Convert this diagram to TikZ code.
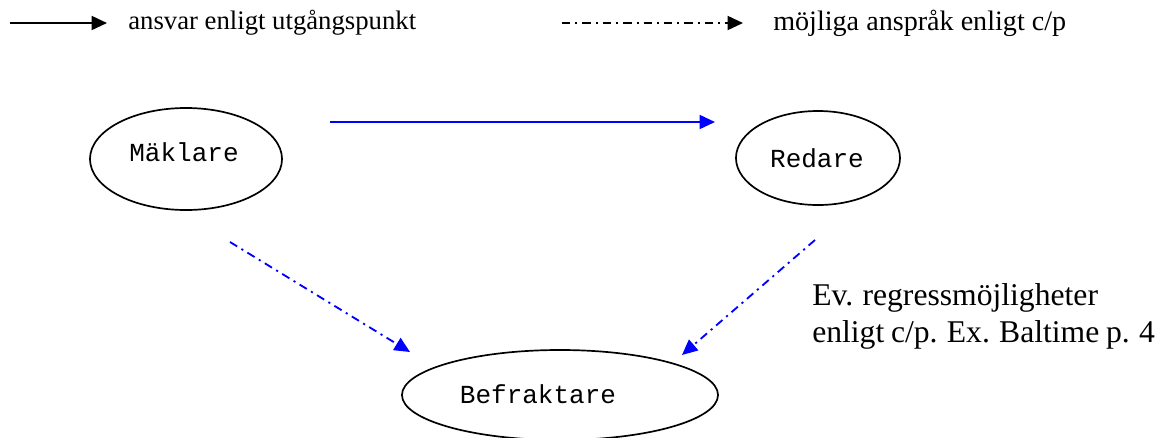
\documentclass[tikz,border=0pt]{standalone}
\usepackage{fontspec}
\setmainfont{Liberation Serif}
\setmonofont{Liberation Mono}
\usetikzlibrary{arrows.meta,shapes.geometric}

\definecolor{linkblue}{RGB}{0,0,255}

% tighter word spacing for the side note
\newcommand\notefont{\fontsize{22.5}{26.3}\selectfont\spaceskip=0.21em plus 0.1em minus 0.05em\relax}

\tikzset{
  party/.style={ellipse, draw=black, line width=1.2pt, inner sep=0pt},
  partylabel/.style={inner sep=0pt, font=\ttfamily\fontsize{18.5}{21}\selectfont},
  tip/.style={-{Triangle[length=11pt,width=10pt]}},
  resp/.style={tip, line width=1.3pt},
  claim/.style={tip, line width=1.3pt,
    dash pattern=on 6pt off 3.5pt on 1.5pt off 3.5pt},
  legendtext/.style={anchor=west, inner sep=0pt,
    font=\fontsize{20}{23}\selectfont}
}

\begin{document}
\begin{tikzpicture}[x=0.025cm, y=-0.025cm]
  \useasboundingbox (0,0) rectangle (1160,437);

  % legend
  \coordinate (l1a) at (10,23);
  \coordinate (l1b) at (107,23);
  \draw[resp] (l1a) -- (l1b);
  \node[legendtext, font=\fontsize{19}{22}\selectfont] (l1t) at (128,23) {ansvar enligt utgångspunkt};

  \coordinate (l2a) at (562,23);
  \coordinate (l2b) at (743,23);
  \draw[claim] (l2a) -- (l2b);
  \node[legendtext] (l2t) at (773,23) {möjliga anspråk enligt c/p};

  % parties
  \node[party, minimum width=4.8cm, minimum height=2.55cm] (mak) at (186,159) {};
  \node[partylabel] (makt) at (184,152) {Mäklare};

  \node[party, minimum width=4.1cm, minimum height=2.35cm] (red) at (818,158) {};
  \node[partylabel] (redt) at (817,158) {Redare};

  \node[party, minimum width=7.9cm, minimum height=2.25cm] (bef) at (560,395) {};
  \node[partylabel] (beft) at (538,394) {Befraktare};

  % connectors
  \coordinate (ma) at (330,122);
  \coordinate (rb) at (715,122);
  \draw[resp, linkblue] (ma) -- (rb);

  \coordinate (mb) at (230,242);
  \coordinate (bl) at (410,352);
  \draw[claim, linkblue] (mb) -- (bl);

  \coordinate (rr) at (815,240);
  \coordinate (br) at (682,355);
  \draw[claim, linkblue] (rr) -- (br);

  % side note
  \node[anchor=north west, inner sep=0pt, align=left, font=\notefont] (note) at (812,283)
    {Ev. regressmöjligheter\\enligt c/p. Ex. Baltime p. 4};
\end{tikzpicture}
\end{document}
